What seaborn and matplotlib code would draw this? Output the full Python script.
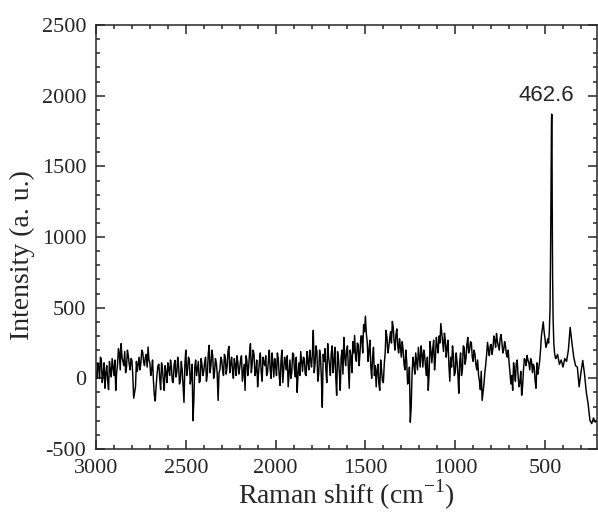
import numpy as np
import pandas as pd
import seaborn as sns
import matplotlib.pyplot as plt
from matplotlib.ticker import MultipleLocator

sns.set_style("ticks")
plt.rcParams["font.family"] = ["Liberation Serif", "DejaVu Serif"]
plt.rcParams["mathtext.fontset"] = "custom"
plt.rcParams["mathtext.rm"] = "Liberation Serif"
plt.rcParams["axes.unicode_minus"] = False

# Raman spectrum: 3000 -> 480 cm-1 every 10 cm-1
shift_main = list(range(3000, 470, -10))
intensity_main = [
    50, 110, 0, 130, 30, -70, 90, -80, 60, 140,
    20, -85, 100, 180, 246, 120, 190, 80, 160, 60,
    130, -140, -60, 50, 150, 110, 185, 90, 170, 222,
    110, 60, -20, -160, 30, 100, -80, 70, -85, 40,
    110, 20, 80, -30, 127, 40, 90, -10, 60, -170,
    200, 60, 130, 10, -300, 80, 20, 120, -20, 100,
    50, 150, 30, 234, 90, 160, 40, 110, -156, 60,
    130, 20, 150, 80, 226, 100, 60, 140, 20, 110,
    70, 160, 40, -85, 130, 80, 246, 110, 170, 50,
    -60, 120, 40, 150, 90, 20, 130, 60, 180, 10,
    90, 180, 20, 120, -30, 150, 60, -60, 130, 40,
    170, 10, -99, 110, 190, 50, 140, 20, 120, 200,
    80, 340, 110, 190, 30, 150, -205, 120, 60, 246,
    100, 180, 40, 220, -120, 140, -85, 200, 290, 90,
    230, -70, 150, 260, 304, 120, 240, 180, 300, 380,
    440, 260, 200, 80, 150, 20, -60, 100, -85, 60,
    -30, 180, 290, 220, 330, 403, 260, 310, 230, 280,
    150, 200, 60, 120, -20, -310, 40, 100, 180, 60,
    150, 230, 80, 160, 20, -85, 260, 110, 270, 150,
    230, 300, 388, 250, 320, 150, 270, -20, 80, 160,
    40, 120, -106, 180, 60, 220, 140, 290, 200, 250,
    120, 170, 60, 20, -80, -156, -40, 100, 255, 160,
    240, 210, 270, 318, 230, 280, 255, 200, 230, 150,
    110, -40, -85, 50, 106, 20, -30, -120, 60, 130,
    163, 110, 140, 40, 80, -70, 30, 120, 300, 400,
    280, 240, 250,
]

# in-between readings, 2995 -> 485 cm-1
shift_mid = list(range(2995, 480, -10))
intensity_mid = [
    0, 80, 150, -30, 110, 40, -20, 120, 10, 80,
    130, 40, 210, 60, 150, 90, 40, 200, 100, 140,
    20, -100, 120, 100, 60, 200, 120, 150, 80, 130,
    20, 130, -120, -50, 90, 0, 110, -20, 90, -30,
    70, 130, -20, 100, 10, 150, -40, 120, -50, 100,
    20, 150, -40, 100, -150, 130, 70, -30, 140, 20,
    110, -20, 170, 40, 200, 0, 140, 30, 40, 150,
    60, 170, 30, 190, 40, 150, 0, 100, 160, 30,
    130, -20, 100, 160, 20, 180, 40, 200, 20, 130,
    40, 180, -20, 110, 160, 40, 200, 0, 110, 140,
    20, 140, -50, 200, 60, 110, 160, 40, 0, 180,
    60, 150, 30, 20, 120, 150, 30, 190, 60, 130,
    180, 40, 230, -20, 200, 0, 170, 210, -30, 150,
    20, 230, 120, 10, 190, 40, 150, 30, 150, 200,
    80, 200, 40, 180, 150, 250, 90, 300, 180, 330,
    320, 120, 270, 0, 220, 90, 60, -40, 130, -20,
    100, 340, 180, 280, 250, 360, 200, 350, 180, 220,
    260, 100, 200, -40, 80, -200, 150, 30, 120, 220,
    80, 170, 200, 80, 150, 40, 190, 210, 60, 290,
    180, 250, 320, 190, 270, 220, 90, 150, 230, 20,
    180, 30, 120, 20, 230, 100, 240, 180, 260, 150,
    200, 100, 130, -20, 50, -100, 40, 170, 200, 230,
    170, 300, 220, 260, 200, 310, 180, 260, 170, 200,
    40, 20, 110, -20, 130, -60, 50, -60, 140, 90,
    130, 60, 120, 100, -20, 110, 70, 200, 350, 330,
    220, 280,
]

# main band around 462.6 cm-1, finer sampling
shift_peak = [476, 472, 469, 466, 464, 463, 462, 461, 460, 458, 455, 451, 447, 443]
intensity_peak = [330, 500, 900, 1450, 1800, 1870, 1860, 1650, 1250, 750, 420, 250, 180, 150]

# low wavenumber tail, 440 -> 210 cm-1
shift_tail = list(range(440, 200, -10))
intensity_tail = [140, 170, 100, 130, 80, 140, 120, 200, 361, 250, 150, 90,
                  80, -60, 40, 127, 30, -100, -180, -297, -320, -280, -310, -300]

peak_label = "462.6"

df = pd.DataFrame({
    "shift": shift_main + shift_mid + shift_peak + shift_tail,
    "intensity": intensity_main + intensity_mid + intensity_peak + intensity_tail,
}).sort_values("shift", ascending=False)

fig = plt.figure(figsize=(5.98, 5.12), dpi=100)
ax = fig.add_axes([0.1605, 0.123, 0.838, 0.828])

sns.lineplot(data=df, x="shift", y="intensity", sort=False, estimator=None,
             color="black", linewidth=1.05, ax=ax)

ax.set_xlim(3000, 210)
ax.set_ylim(-500, 2500)
ax.xaxis.set_major_locator(MultipleLocator(500))
ax.xaxis.set_minor_locator(MultipleLocator(100))
ax.yaxis.set_major_locator(MultipleLocator(500))
ax.yaxis.set_minor_locator(MultipleLocator(100))
ax.tick_params(which="both", direction="in", top=True, right=True, width=1.1,
               labelsize=16, pad=7)
ax.tick_params(which="major", length=6.5)
ax.tick_params(which="minor", length=3)
for sp in ax.spines.values():
    sp.set_linewidth(1.1)
    sp.set_visible(True)

ax.text(490, 2000, peak_label, ha="center", va="center", fontsize=16,
        family=["Liberation Sans", "DejaVu Sans"])

ax.set_xlabel(r"Raman shift (cm$^{\mathregular{-1}}$)", fontsize=20, labelpad=0)
ax.set_ylabel("Intensity (a. u.)", fontsize=20)
ax.yaxis.set_label_coords(-0.122, 0.457)

fig.savefig("out.png", dpi=100)
